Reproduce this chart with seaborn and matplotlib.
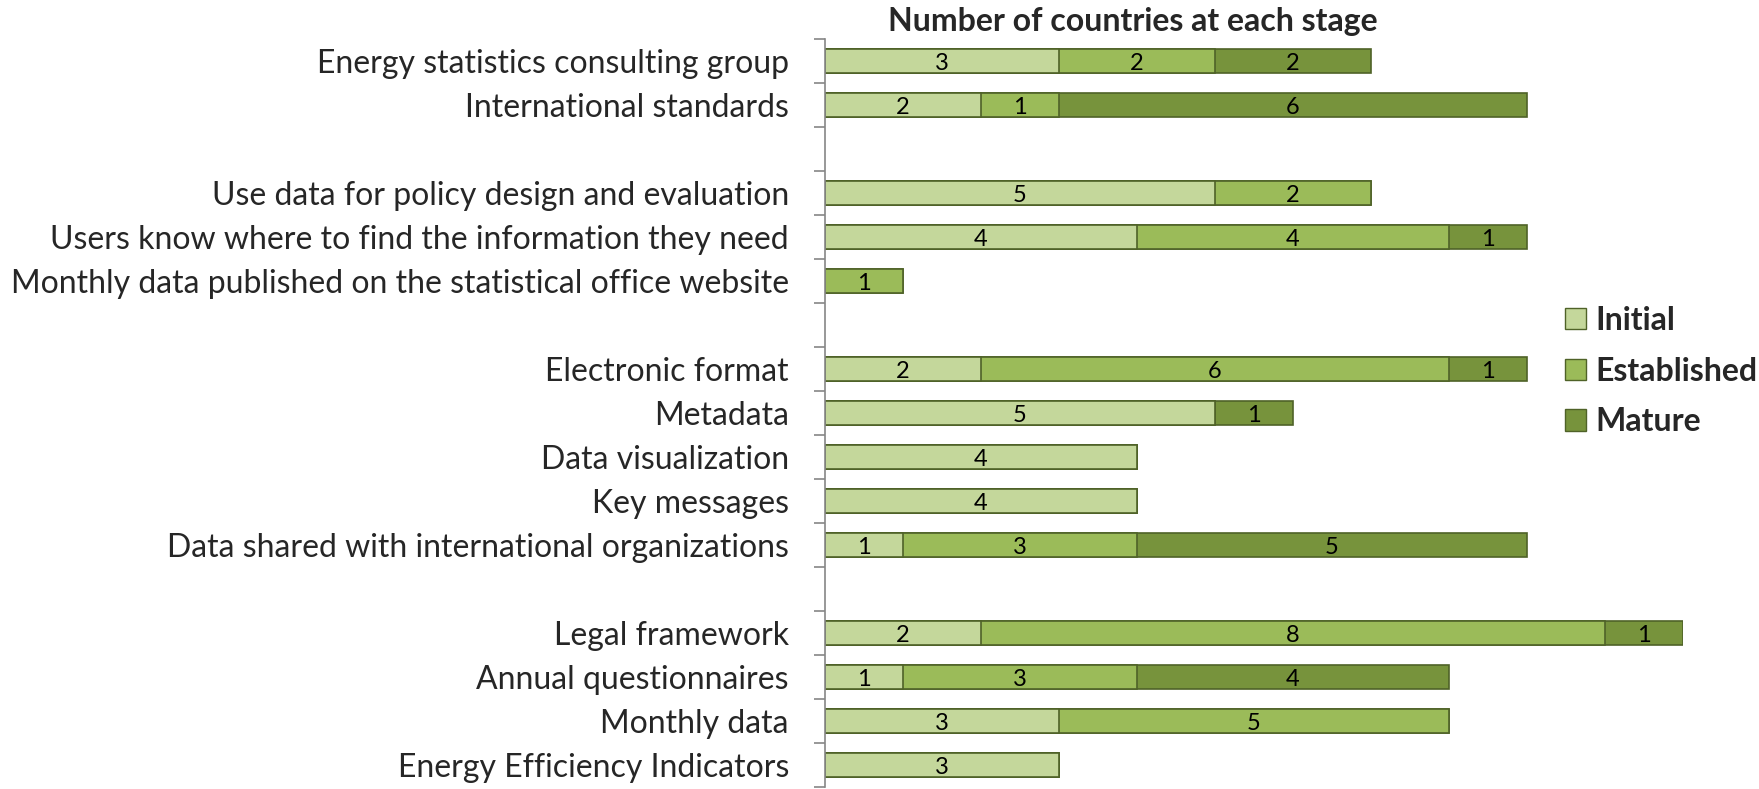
import numpy as np
import pandas as pd
import matplotlib
matplotlib.use("Agg")
import matplotlib.pyplot as plt
import seaborn as sns
from matplotlib.patches import Patch

# Rows top to bottom; blank strings are the gaps between groups
categories = [
    "Energy statistics consulting group",
    "International standards",
    " ",
    "Use data for policy design and evaluation",
    "Users know where to find the information they need",
    "Monthly data published on the statistical office website",
    "  ",
    "Electronic format",
    "Metadata",
    "Data visualization",
    "Key messages",
    "Data shared with international organizations",
    "   ",
    "Legal framework",
    "Annual questionnaires",
    "Monthly data",
    "Energy Efficiency Indicators",
]
initial = [3, 2, np.nan, 5, 4, 0, np.nan, 2, 5, 4, 4, 1, np.nan, 2, 1, 3, 3]
established = [2, 1, np.nan, 2, 4, 1, np.nan, 6, 0, 0, 0, 3, np.nan, 8, 3, 5, 0]
mature = [2, 6, np.nan, 0, 1, 0, np.nan, 1, 1, 0, 0, 5, np.nan, 1, 4, 0, 0]

stages = ["Initial", "Established", "Mature"]
colors = ["#C4D79B", "#9BBB59", "#77933C"]
edge = "#4F6228"

df = pd.DataFrame({"category": categories, "Initial": initial,
                   "Established": established, "Mature": mature})
df["end_init"] = df["Initial"]
df["end_est"] = df["Initial"] + df["Established"]
df["end_mat"] = df["end_est"] + df["Mature"]

sns.set_theme(style="white")
plt.rcParams["font.family"] = ["Lato", "DejaVu Sans"]

fig = plt.figure(figsize=(17.59, 7.89), dpi=100)
ax = fig.add_axes([825 / 1759, 2 / 789, 858 / 1759, 748 / 789])

# Layered bars: longest (cumulative) first, shorter ones on top
for col, c in zip(["end_mat", "end_est", "end_init"], colors[::-1]):
    d = df[df[col] > 0]
    sns.barplot(data=d, x=col, y="category", order=categories, color=c,
                edgecolor=edge, linewidth=1.2, width=0.55, saturation=1,
                orient="h", ax=ax)

# Segment labels
for i, row in df.iterrows():
    start = 0
    for s in stages:
        v = row[s]
        if pd.notna(v) and v > 0:
            ax.text(start + v / 2, i + 0.06, f"{int(v)}", ha="center",
                    va="center", fontsize=17, color="black")
            start += v

ax.set_xlim(0, 11)
ax.set_ylim(len(categories) - 0.5, -0.5)
ax.set_xlabel("")
ax.set_ylabel("")
ax.xaxis.set_visible(False)
for sp in ["top", "right", "bottom"]:
    ax.spines[sp].set_visible(False)
ax.spines["left"].set_color("#868686")
ax.spines["left"].set_linewidth(1.2)

ax.set_yticks(range(len(categories)))
ax.set_yticklabels(categories, fontsize=23)
ax.tick_params(axis="y", which="major", length=0, pad=26)
ax.set_yticks(np.arange(-0.5, len(categories), 1), minor=True)
ax.tick_params(axis="y", which="minor", length=8, width=1.2, color="#868686", left=True)

fig.text(1133 / 1759, 1 - 21 / 789, "Number of countries at each stage",
         ha="center", va="center", fontsize=23, fontweight="bold")

handles = [Patch(facecolor=c, edgecolor=edge, label=s) for s, c in zip(stages, colors)]
fig.legend(handles=handles, loc="upper left", bbox_to_anchor=(1552 / 1759, 1 - 293 / 789),
           frameon=False, prop={"weight": "bold", "size": 23},
           handlelength=0.65, handleheight=0.65, handletextpad=0.3, labelspacing=0.68,
           borderaxespad=0)

fig.savefig("out.png", dpi=100)
